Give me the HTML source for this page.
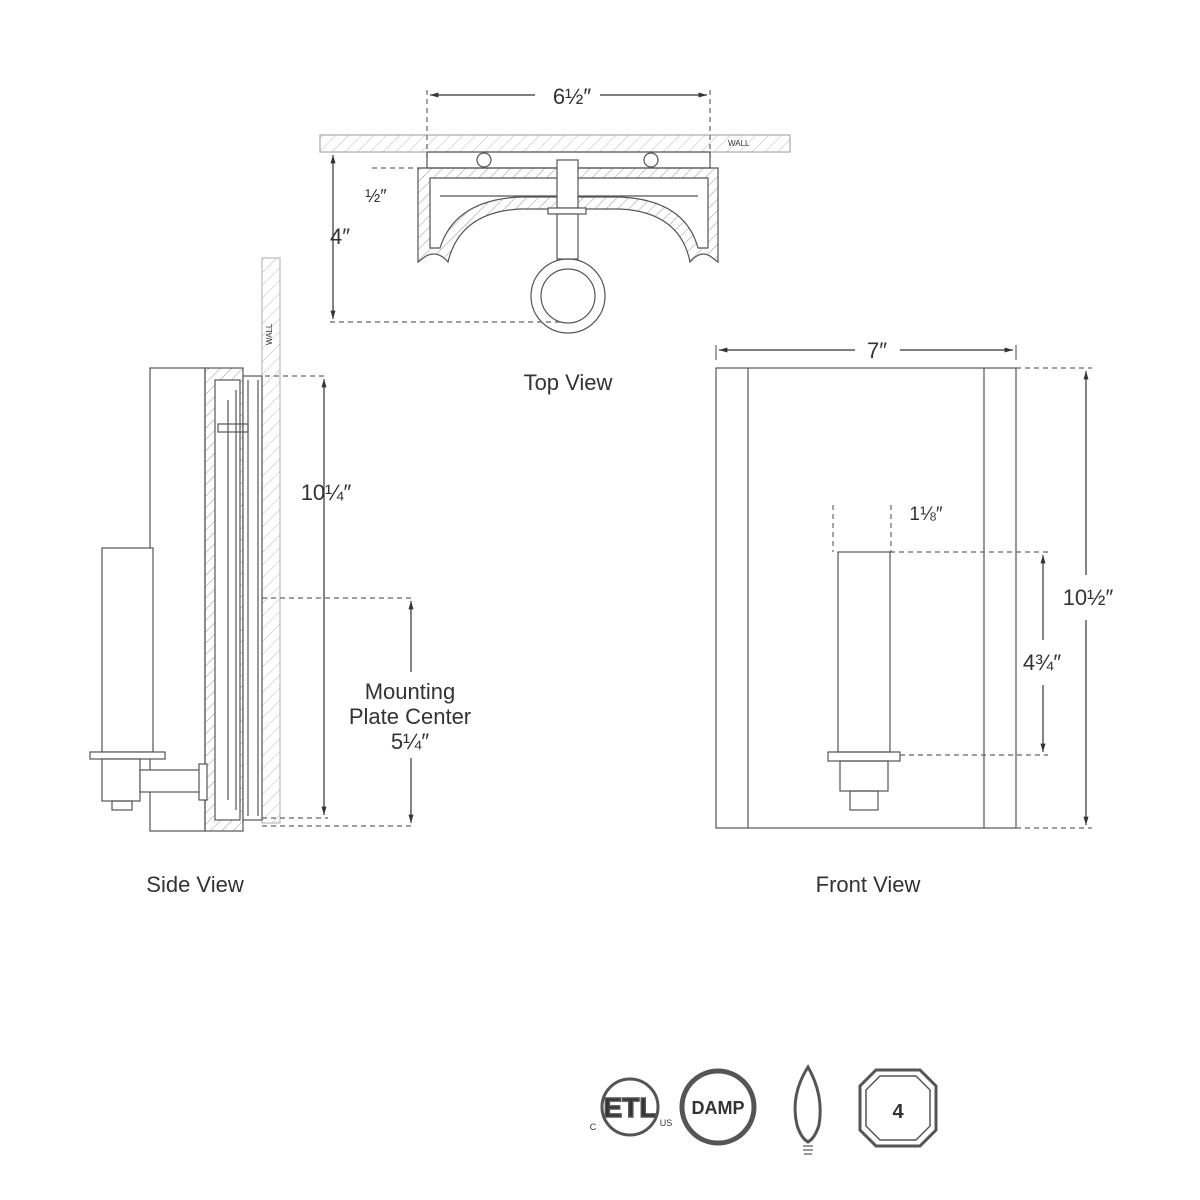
<!DOCTYPE html>
<html><head><meta charset="utf-8"><style>
body{margin:0;background:#fff}
svg{display:block}
text{font-family:"Liberation Sans",sans-serif;fill:#333}
</style></head><body>
<svg width="1200" height="1200" viewBox="0 0 1200 1200" xmlns="http://www.w3.org/2000/svg">
<defs>
<pattern id="h" width="8" height="8" patternUnits="userSpaceOnUse" patternTransform="rotate(45)">
<line x1="0" y1="0" x2="0" y2="8" stroke="#999" stroke-width="1"/></pattern>
<pattern id="hl" width="9" height="9" patternUnits="userSpaceOnUse" patternTransform="rotate(45)">
<line x1="0" y1="0" x2="0" y2="9" stroke="#bbb" stroke-width="1"/></pattern>
<marker id="a" viewBox="0 0 10 10" refX="10" refY="5" markerWidth="7" markerHeight="7" orient="auto-start-reverse"><path d="M0,2L10,5L0,8z" fill="#333"/></marker>
</defs>
<g fill="none" stroke="#555" stroke-width="1.2">
<!-- TOP VIEW -->
<rect x="320" y="135" width="470" height="17" fill="url(#hl)" stroke="#aaa"/>
<text x="728" y="146" font-size="8" fill="#aaa" stroke="none">WALL</text>
<line x1="427" y1="90" x2="427" y2="160" stroke-dasharray="5,4" stroke="#666"/>
<line x1="710" y1="90" x2="710" y2="160" stroke-dasharray="5,4" stroke="#666"/>
<line x1="430" y1="95" x2="535" y2="95" marker-start="url(#a)" stroke="#333"/>
<line x1="600" y1="95" x2="707" y2="95" marker-end="url(#a)" stroke="#333"/>
<rect x="427" y="152" width="283" height="16"/>
<circle cx="484" cy="160" r="7"/><circle cx="651" cy="160" r="7"/>
<path d="M418,168H718V262L710,256Q700,250 690,262Q680,212 620,209H520Q460,212 448,262Q438,250 426,256L418,262Z" fill="url(#h)"/>
<path d="M430,178H708V248H698Q685,200 620,197H520Q455,200 440,248H430Z" fill="#fff"/>
<line x1="440" y1="196" x2="698" y2="196"/>
<line x1="390" y1="186" x2="700" y2="186" stroke="none"/>
<rect x="557" y="160" width="21" height="48" fill="#fff"/>
<rect x="548" y="208" width="38" height="6" fill="#fff"/>
<rect x="557" y="214" width="21" height="45" fill="#fff"/>
<circle cx="568" cy="296" r="37"/><circle cx="568" cy="296" r="27"/>
<line x1="333" y1="155" x2="333" y2="319" marker-start="url(#a)" marker-end="url(#a)" stroke="#333"/>
<line x1="330" y1="322" x2="560" y2="322" stroke-dasharray="5,4" stroke="#666"/>
<line x1="372" y1="168" x2="418" y2="168" stroke-dasharray="5,4" stroke="#666"/>
<!-- SIDE VIEW -->
<rect x="262" y="258" width="18" height="565" fill="url(#hl)" stroke="#bbb"/>
<text x="0" y="0" font-size="8" fill="#aaa" stroke="none" transform="translate(272,345) rotate(-90)">WALL</text>
<rect x="150" y="368" width="55" height="463"/>
<rect x="205" y="368" width="38" height="463" fill="url(#h)"/>
<rect x="215" y="380" width="25" height="440" fill="#fff"/>
<line x1="228" y1="400" x2="228" y2="800"/><line x1="236" y1="390" x2="236" y2="810"/>
<rect x="243" y="376" width="19" height="444" fill="#fff"/>
<line x1="248" y1="380" x2="248" y2="816"/><line x1="258" y1="380" x2="258" y2="816"/>
<rect x="218" y="424" width="30" height="8"/>
<rect x="102" y="548" width="51" height="204" fill="#fff"/>
<rect x="90" y="752" width="75" height="7" fill="#fff"/>
<rect x="102" y="759" width="38" height="42" fill="#fff"/>
<rect x="112" y="801" width="20" height="9"/>
<rect x="140" y="770" width="62" height="22" fill="#fff"/>
<rect x="199" y="764" width="8" height="36" fill="#fff"/>
<line x1="265" y1="376" x2="328" y2="376" stroke-dasharray="5,4" stroke="#666"/>
<line x1="324" y1="379" x2="324" y2="815" marker-start="url(#a)" marker-end="url(#a)" stroke="#333"/>
<line x1="262" y1="818" x2="328" y2="818" stroke-dasharray="5,4" stroke="#666"/>
<line x1="262" y1="598" x2="414" y2="598" stroke-dasharray="5,4" stroke="#666"/>
<line x1="262" y1="826" x2="414" y2="826" stroke-dasharray="5,4" stroke="#666"/>
<line x1="411" y1="601" x2="411" y2="672" marker-start="url(#a)" stroke="#333"/>
<line x1="411" y1="758" x2="411" y2="823" marker-end="url(#a)" stroke="#333"/>
<!-- FRONT VIEW -->
<rect x="716" y="368" width="300" height="460"/>
<line x1="748" y1="368" x2="748" y2="828"/><line x1="984" y1="368" x2="984" y2="828"/>
<line x1="716" y1="345" x2="716" y2="360" stroke="#666"/><line x1="1016" y1="345" x2="1016" y2="360" stroke="#666"/>
<line x1="719" y1="350" x2="855" y2="350" marker-start="url(#a)" stroke="#333"/>
<line x1="900" y1="350" x2="1013" y2="350" marker-end="url(#a)" stroke="#333"/>
<line x1="1016" y1="368" x2="1092" y2="368" stroke-dasharray="5,4" stroke="#666"/>
<line x1="1016" y1="828" x2="1092" y2="828" stroke-dasharray="5,4" stroke="#666"/>
<line x1="1086" y1="371" x2="1086" y2="575" marker-start="url(#a)" stroke="#333"/>
<line x1="1086" y1="620" x2="1086" y2="825" marker-end="url(#a)" stroke="#333"/>
<rect x="838" y="552" width="52" height="200"/>
<rect x="828" y="752" width="72" height="9"/>
<rect x="840" y="761" width="48" height="30"/>
<rect x="850" y="791" width="28" height="19"/>
<line x1="833" y1="505" x2="833" y2="552" stroke-dasharray="5,4" stroke="#666"/>
<line x1="891" y1="505" x2="891" y2="552" stroke-dasharray="5,4" stroke="#666"/>
<line x1="890" y1="552" x2="1048" y2="552" stroke-dasharray="5,4" stroke="#666"/>
<line x1="900" y1="755" x2="1048" y2="755" stroke-dasharray="5,4" stroke="#666"/>
<line x1="1043" y1="555" x2="1043" y2="640" marker-start="url(#a)" stroke="#333"/>
<line x1="1043" y1="685" x2="1043" y2="752" marker-end="url(#a)" stroke="#333"/>
<!-- ICONS -->
<g stroke="#555" stroke-width="3">
<circle cx="630" cy="1107" r="28"/>
<circle cx="718" cy="1107" r="36" stroke-width="5"/>
<path d="M808,1067Q790,1095 797,1125Q801,1138 808,1142Q815,1138 819,1125Q824,1095 808,1067Z"/>
<path d="M876,1070H920L936,1086V1130L920,1146H876L860,1130V1086Z"/>
<path d="M880,1076H916L930,1090V1126L916,1140H880L866,1126V1090Z" stroke-width="1.5"/>
</g>
<line x1="803" y1="1146" x2="813" y2="1146"/><line x1="803" y1="1150" x2="813" y2="1150"/><line x1="804" y1="1154" x2="812" y2="1154"/>
</g>
<g font-size="22" text-anchor="middle">
<text x="572" y="104">6½″</text>
<text x="340" y="244">4″</text>
<text x="376" y="202" font-size="18">½″</text>
<text x="568" y="390">Top View</text>
<text x="326" y="500">10¼″</text>
<text x="410" y="699">Mounting</text>
<text x="410" y="724">Plate Center</text>
<text x="410" y="749">5¼″</text>
<text x="195" y="892">Side View</text>
<text x="877" y="358">7″</text>
<text x="926" y="520" font-size="19">1⅛″</text>
<text x="1088" y="605">10½″</text>
<text x="1042" y="670">4¾″</text>
<text x="868" y="892">Front View</text>
<text x="630" y="1117" font-size="28" font-weight="bold" fill="none" stroke="#555" stroke-width="1.5">ETL</text>
<text x="593" y="1130" font-size="9" fill="#555">C</text>
<text x="666" y="1126" font-size="9" fill="#555">US</text>
<text x="718" y="1114" font-size="18" font-weight="bold" fill="#555">DAMP</text>
<text x="898" y="1118" font-size="20" font-weight="bold" fill="#444">4</text>
</g>
</svg>
</body></html>
